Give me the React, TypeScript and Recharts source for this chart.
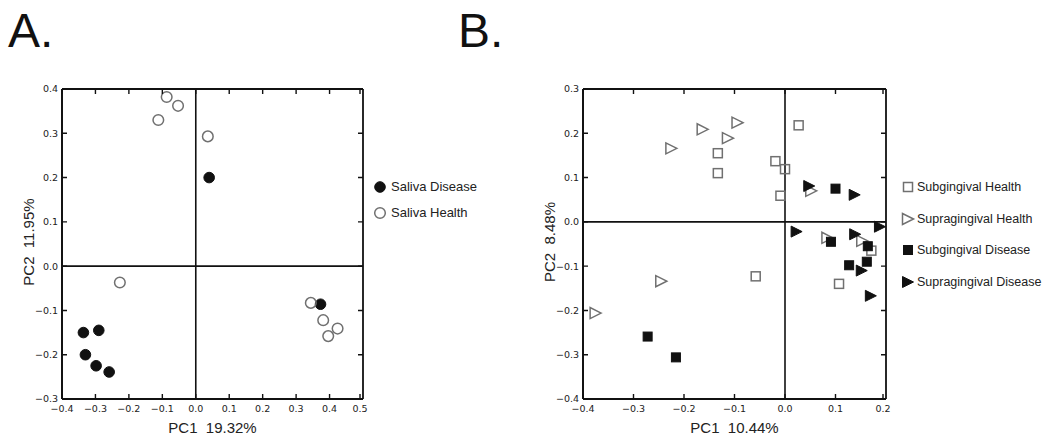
import React from "react";
import { ScatterChart, Scatter, XAxis, YAxis, ReferenceLine } from "recharts";

// Panel A: saliva samples (PC1, PC2)
const salivaDiseasePc1 = [0.04, 0.373, -0.336, -0.29, -0.33, -0.298, -0.259];
const salivaDiseasePc2 = [0.2, -0.086, -0.15, -0.145, -0.2, -0.225, -0.239];
const salivaHealthPc1 = [-0.087, -0.053, -0.112, 0.036, -0.227, 0.344, 0.381, 0.424, 0.396];
const salivaHealthPc2 = [0.382, 0.362, 0.33, 0.293, -0.037, -0.083, -0.122, -0.141, -0.158];

// Panel B: plaque samples (PC1, PC2)
const subHealthPc1 = [0.027, -0.133, -0.133, -0.019, 0.0, -0.009, -0.058, 0.171, 0.107];
const subHealthPc2 = [0.218, 0.155, 0.11, 0.137, 0.119, 0.059, -0.123, -0.065, -0.14];
const supraHealthPc1 = [-0.225, -0.163, -0.113, -0.094, -0.245, -0.375, 0.052, 0.084, 0.153];
const supraHealthPc2 = [0.166, 0.209, 0.189, 0.224, -0.134, -0.206, 0.07, -0.036, -0.043];
const subDiseasePc1 = [0.1, -0.272, -0.216, 0.091, 0.164, 0.127, 0.162];
const subDiseasePc2 = [0.075, -0.259, -0.306, -0.045, -0.055, -0.098, -0.09];
const supraDiseasePc1 = [0.048, 0.138, 0.023, 0.139, 0.188, 0.152, 0.17];
const supraDiseasePc2 = [0.081, 0.061, -0.022, -0.028, -0.011, -0.11, -0.167];

const ticksAX = [-0.4, -0.3, -0.2, -0.1, 0, 0.1, 0.2, 0.3, 0.4, 0.5];
const ticksAY = [-0.3, -0.2, -0.1, 0, 0.1, 0.2, 0.3, 0.4];
const ticksBX = [-0.4, -0.3, -0.2, -0.1, 0, 0.1, 0.2];
const ticksBY = [-0.4, -0.3, -0.2, -0.1, 0, 0.1, 0.2, 0.3];

const DARK = "#111";
const GRAY = "#707070";
const TICK_FONT = "DejaVu Sans, sans-serif";
const TEXT_FONT = "Liberation Sans, Arial, sans-serif";
const TICK_LEN = 5;

const CHART_H = 436;
const M_TOP = 89;
const M_RIGHT = 7;
const X_AXIS_H = 37;
const Y_AXIS_W = 62;

const zip = (xs: number[], ys: number[]) => xs.map((x, i) => ({ x, y: ys[i] }));

const fmt = (v: number) => v.toFixed(1).replace("-", "\u2212");

// matplotlib-like inward ticks, mirrored on the opposite side of the box
const bottomTick = (plotH: number) => (p: any) => (
  <g>
    <path d={`M${p.x},${p.y}V${p.y - TICK_LEN}M${p.x},${p.y - plotH}V${p.y - plotH + TICK_LEN}`} stroke={DARK} strokeWidth={1.4} fill="none" />
    <text x={p.x} y={p.y + 12.5} textAnchor="middle" fontSize={9.5} fontFamily={TICK_FONT} fill="#222">
      {fmt(p.payload.value)}
    </text>
  </g>
);
const leftTick = (plotW: number) => (p: any) => (
  <g>
    <path d={`M${p.x},${p.y}H${p.x + TICK_LEN}M${p.x + plotW},${p.y}H${p.x + plotW - TICK_LEN}`} stroke={DARK} strokeWidth={1.4} fill="none" />
    <text x={p.x - 4} y={p.y + 3.4} textAnchor="end" fontSize={9.5} fontFamily={TICK_FONT} fill="#222">
      {fmt(p.payload.value)}
    </text>
  </g>
);

const circleShape = (filled: boolean) => (p: any) => (
  <circle cx={p.cx} cy={p.cy} r={5.3} fill={filled ? DARK : "none"} stroke={filled ? DARK : GRAY} strokeWidth={filled ? 1 : 1.5} />
);
const squareShape = (filled: boolean) => (p: any) => (
  <rect x={p.cx - 4.5} y={p.cy - 4.5} width={9} height={9} fill={filled ? DARK : "none"} stroke={filled ? DARK : GRAY} strokeWidth={filled ? 1 : 1.5} />
);
const triangleShape = (filled: boolean) => (p: any) => (
  <polygon
    points={`${p.cx + 5.5},${p.cy} ${p.cx - 5.5},${p.cy - 5.5} ${p.cx - 5.5},${p.cy + 5.5}`}
    fill={filled ? DARK : "none"}
    stroke={filled ? DARK : GRAY}
    strokeWidth={filled ? 1 : 1.5}
    strokeLinejoin="miter"
  />
);

const xTitle = (value: string) => (props: any) => {
  const vb = props.viewBox;
  return (
    <text x={vb.x + vb.width / 2} y={vb.y + 34} textAnchor="middle" fontSize={15} fontFamily={TEXT_FONT} fill="#222" style={{ whiteSpace: "pre" }}>
      {value}
    </text>
  );
};
const yTitle = (value: string) => (props: any) => {
  const vb = props.viewBox;
  const x = vb.x + 34;
  const y = vb.y + vb.height / 2 - 2;
  return (
    <text x={x} y={y} transform={`rotate(-90 ${x} ${y})`} textAnchor="middle" fontSize={15} fontFamily={TEXT_FONT} fill="#222" style={{ whiteSpace: "pre" }}>
      {value}
    </text>
  );
};

type Series = { name: string; data: { x: number; y: number }[]; shape: (p: any) => React.ReactElement };

function Panel({ left, width, xDomain, yDomain, xTicks, yTicks, xLabel, yLabel, series }: any) {
  const frame = { stroke: DARK, strokeWidth: 1.8 };
  const plotH = CHART_H - M_TOP - X_AXIS_H;
  const plotW = width - M_RIGHT - Y_AXIS_W;
  return (
    <div style={{ position: "absolute", left, top: 0 }}>
      <ScatterChart width={width} height={CHART_H} margin={{ top: M_TOP, right: M_RIGHT, bottom: 0, left: 0 }}>
        <XAxis
          type="number"
          dataKey="x"
          domain={xDomain}
          ticks={xTicks}
          allowDataOverflow
          height={X_AXIS_H}
          tickSize={0}
          tickMargin={0}
          tick={bottomTick(plotH)}
          axisLine={frame}
          label={{ value: xLabel, content: xTitle(xLabel) }}
        />
        <YAxis
          type="number"
          dataKey="y"
          domain={yDomain}
          ticks={yTicks}
          allowDataOverflow
          width={Y_AXIS_W}
          tickSize={0}
          tickMargin={0}
          tick={leftTick(plotW)}
          axisLine={frame}
          label={{ value: yLabel, content: yTitle(yLabel) }}
        />
        <ReferenceLine x={xDomain[0]} stroke={DARK} strokeWidth={1.8} />
        <ReferenceLine x={xDomain[1]} stroke={DARK} strokeWidth={1.8} />
        <ReferenceLine y={yDomain[0]} stroke={DARK} strokeWidth={1.8} />
        <ReferenceLine y={yDomain[1]} stroke={DARK} strokeWidth={1.8} />
        <ReferenceLine x={0} stroke={DARK} strokeWidth={1.6} />
        <ReferenceLine y={0} stroke={DARK} strokeWidth={1.6} />
        {series.map((s: Series) => (
          <Scatter key={s.name} name={s.name} data={s.data} shape={s.shape} isAnimationActive={false} />
        ))}
      </ScatterChart>
    </div>
  );
}

function LegendBox({ items, iconX, textX, firstY, step, fontSize }: any) {
  return (
    <>
      {items.map((s: Series, i: number) => {
        const cy = firstY + i * step;
        return (
          <React.Fragment key={s.name}>
            <svg style={{ position: "absolute", left: iconX - 8, top: cy - 8 }} width={16} height={16}>
              {s.shape({ cx: 8, cy: 8 })}
            </svg>
            <div
              style={{
                position: "absolute",
                left: textX,
                top: cy - 10,
                height: 20,
                lineHeight: "20px",
                fontSize,
                fontFamily: TEXT_FONT,
                color: "#222",
                whiteSpace: "nowrap",
              }}
            >
              {s.name}
            </div>
          </React.Fragment>
        );
      })}
    </>
  );
}

const seriesA: Series[] = [
  { name: "Saliva Disease", data: zip(salivaDiseasePc1, salivaDiseasePc2), shape: circleShape(true) },
  { name: "Saliva Health", data: zip(salivaHealthPc1, salivaHealthPc2), shape: circleShape(false) },
];

const seriesB: Series[] = [
  { name: "Subgingival Health", data: zip(subHealthPc1, subHealthPc2), shape: squareShape(false) },
  { name: "Supragingival Health", data: zip(supraHealthPc1, supraHealthPc2), shape: triangleShape(false) },
  { name: "Subgingival Disease", data: zip(subDiseasePc1, subDiseasePc2), shape: squareShape(true) },
  { name: "Supragingival Disease", data: zip(supraDiseasePc1, supraDiseasePc2), shape: triangleShape(true) },
];

const titleStyle: React.CSSProperties = {
  position: "absolute",
  top: 7,
  fontSize: 48,
  lineHeight: "48px",
  fontFamily: TEXT_FONT,
  color: DARK,
};

export default function App() {
  return (
    <div style={{ position: "absolute", left: 0, top: 0, width: 1050, height: 436, background: "#fff", overflow: "hidden" }}>
      <div style={{ ...titleStyle, left: 8 }}>A.</div>
      <div style={{ ...titleStyle, left: 458 }}>B.</div>
      <Panel
        left={0}
        width={370}
        xDomain={[-0.4, 0.5]}
        yDomain={[-0.3, 0.4]}
        xTicks={ticksAX}
        yTicks={ticksAY}
        xLabel={"PC1  19.32%"}
        yLabel={"PC2  11.95%"}
        series={seriesA}
      />
      <Panel
        left={521}
        width={372}
        xDomain={[-0.4, 0.2]}
        yDomain={[-0.4, 0.3]}
        xTicks={ticksBX}
        yTicks={ticksBY}
        xLabel={"PC1  10.44%"}
        yLabel={"PC2  8.48%"}
        series={seriesB}
      />
      <LegendBox items={seriesA} iconX={380} textX={391} firstY={187} step={26} fontSize={13} />
      <LegendBox items={seriesB} iconX={908} textX={917} firstY={187} step={31.7} fontSize={12.5} />
    </div>
  );
}
